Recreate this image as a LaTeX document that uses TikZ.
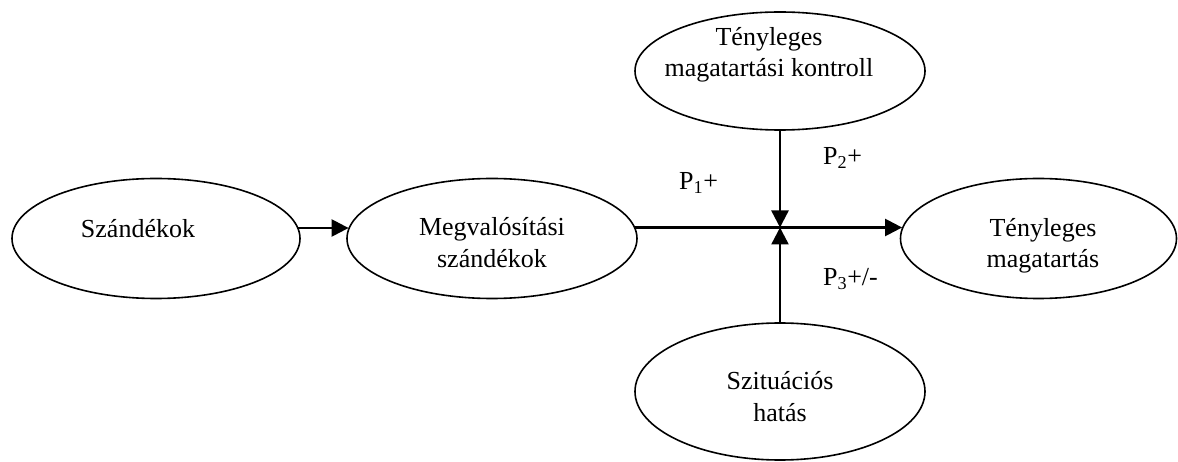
\documentclass[tikz,border=0pt]{standalone}
\usepackage{fontspec}
\setmainfont{Liberation Serif}
\usetikzlibrary{arrows.meta,shapes.geometric}
\begin{document}
\begin{tikzpicture}[x=1pt,y=-1pt,
  oval/.style={draw, ellipse, line width=1.6pt, inner sep=0pt},
  txt/.style={align=center, font=\fontsize{26}{31.5}\selectfont, inner sep=0pt, anchor=base},
  lbl/.style={font=\fontsize{26}{31}\selectfont, inner sep=0pt, anchor=base west},
  conn/.style={line width=2.4pt, -{Triangle[length=17pt,width=17pt]}}]
\useasboundingbox (0,0) rectangle (1178,462);
% ellipses
\node[oval, minimum width=288pt, minimum height=120pt] (sz) at (156,238.5) {};
\node[oval, minimum width=290pt, minimum height=120pt] (mg) at (492,238.5) {};
\node[oval, minimum width=276pt, minimum height=120pt] (tm) at (1038.5,238.5) {};
\node[oval, minimum width=290pt, minimum height=118pt] (tk) at (780,71) {};
\node[oval, minimum width=290pt, minimum height=137pt] (sh) at (780,391.5) {};
% texts (base = last line)
\node[txt] (szt) at (138,238) {Szándékok};
\node[txt] (mgt) at (492,267.5) {Megvalósítási\\szándékok};
\node[txt] (tmt) at (1043,268) {Tényleges\\magatartás};
\node[txt] (tkt) at (769,77) {Tényleges\\magatartási kontroll};
\node[txt] (sht) at (780,421) {Szituációs\\hatás};
% labels
\node[lbl] (p1) at (679,190) {P\textsubscript{1}+};
\node[lbl] (p2) at (823,165) {P\textsubscript{2}+};
\node[lbl] (p3) at (823,286) {P\textsubscript{3}+/-};
% connectors
\coordinate (J) at (780,227.5);
\draw[conn] ([shift={(-2.4,-10.5)}]sz.east) -- ([shift={(2.4,-10.5)}]mg.west);
\draw[conn] ([shift={(-2.4,-11)}]mg.east) -- ([shift={(2.4,-11)}]tm.west);
\draw[conn] (tk) -- (J);
\draw[conn] (sh) -- (J);
\end{tikzpicture}
\end{document}
